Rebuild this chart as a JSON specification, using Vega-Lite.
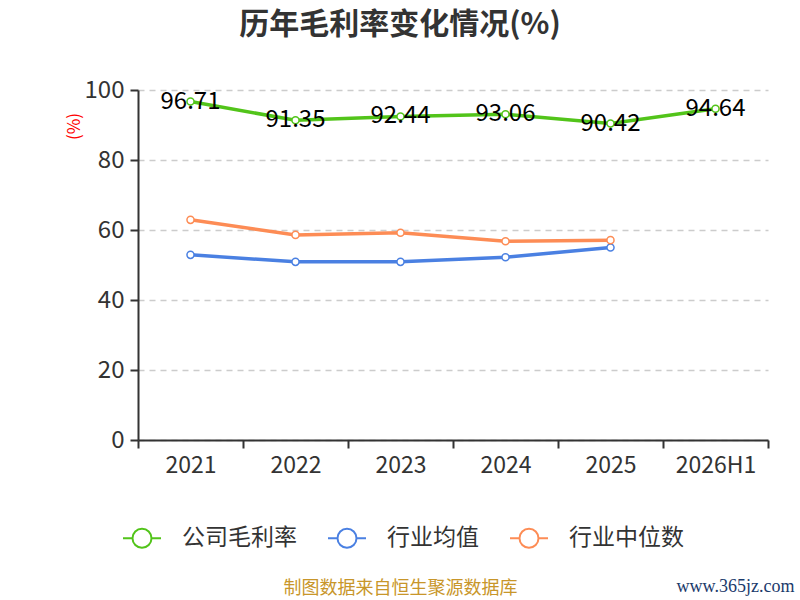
{
  "$schema": "https://vega.github.io/schema/vega-lite/v6.json",
  "width": 630,
  "height": 350,
  "autosize": {"type": "none"},
  "padding": {"left": 138, "top": 90, "right": 32, "bottom": 160},
  "background": "white",
  "config": {"font": "Noto Sans CJK SC", "view": {"stroke": null}},
  "title": {
    "text": "历年毛利率变化情况(%)",
    "fontSize": 30,
    "fontWeight": "bold",
    "color": "#333333",
    "anchor": "middle",
    "frame": "group",
    "offset": 38,
    "dx": -53
  },
  "data": {
    "values": [
      {"year": "2021", "series": "公司毛利率", "value": 96.71},
      {"year": "2022", "series": "公司毛利率", "value": 91.35},
      {"year": "2023", "series": "公司毛利率", "value": 92.44},
      {"year": "2024", "series": "公司毛利率", "value": 93.06},
      {"year": "2025", "series": "公司毛利率", "value": 90.42},
      {"year": "2026H1", "series": "公司毛利率", "value": 94.64},
      {"year": "2021", "series": "行业均值", "value": 52.9},
      {"year": "2022", "series": "行业均值", "value": 50.9},
      {"year": "2023", "series": "行业均值", "value": 50.9},
      {"year": "2024", "series": "行业均值", "value": 52.2},
      {"year": "2025", "series": "行业均值", "value": 55.0},
      {"year": "2021", "series": "行业中位数", "value": 62.9},
      {"year": "2022", "series": "行业中位数", "value": 58.6},
      {"year": "2023", "series": "行业中位数", "value": 59.2},
      {"year": "2024", "series": "行业中位数", "value": 56.8},
      {"year": "2025", "series": "行业中位数", "value": 57.1}
    ]
  },
  "encoding": {
    "y": {
      "field": "value",
      "type": "quantitative",
      "scale": {"domain": [0, 100], "nice": false},
      "axis": {
        "values": [0, 20, 40, 60, 80, 100],
        "title": "(%)",
        "titleColor": "red",
        "titleFontSize": 17,
        "titleFontWeight": "normal",
        "titleX": -55,
        "titleY": 36,
        "labelFontSize": 24,
        "labelColor": "#333333",
        "labelPadding": 6,
        "tickSize": 8,
        "tickWidth": 2,
        "tickColor": "#333333",
        "domainColor": "#333333",
        "domainWidth": 2,
        "grid": true,
        "gridDash": [6, 5],
        "gridColor": "#cccccc",
        "gridWidth": 1.5
      }
    }
  },
  "layer": [
    {
      "mark": {"type": "line", "strokeWidth": 3.5},
      "encoding": {
        "x": {
          "field": "year",
          "type": "ordinal",
          "bandPosition": 0.5,
          "scale": {"type": "band", "paddingInner": 0, "paddingOuter": 0, "domain": ["2021", "2022", "2023", "2024", "2025", "2026H1"]},
          "axis": {
            "orient": "bottom",
            "labelAngle": 0,
            "labelFontSize": 23,
            "labelColor": "#333333",
            "labelPadding": 6,
            "tickSize": 8,
            "tickWidth": 2,
            "tickColor": "#333333",
            "tickBand": "extent",
            "domainColor": "#333333",
            "domainWidth": 2,
            "grid": false,
            "title": "制图数据来自恒生聚源数据库",
            "titleColor": "#c8962a",
            "titleFontSize": 18,
            "titleFontWeight": "normal",
            "titleX": 262,
            "titleY": 148,
            "titleAlign": "center",
            "titleBaseline": "middle"
          }
        },
        "color": {
          "field": "series",
          "type": "nominal",
          "scale": {"domain": ["公司毛利率", "行业均值", "行业中位数"], "range": ["#52c41a", "#4a80e2", "#fd8c55"]},
          "legend": {
            "orient": "none",
            "legendX": -16,
            "legendY": 428,
            "direction": "horizontal",
            "title": null,
            "labelFontSize": 23,
            "labelColor": "#333333",
            "symbolType": "M-1,0L-0.5,0M0.5,0L1,0M-0.5,0A0.5,0.5,0,1,1,0.5,0A0.5,0.5,0,1,1,-0.5,0Z",
            "symbolSize": 1444,
            "symbolStrokeWidth": 2,
            "symbolFillColor": "white",
            "labelOffset": 20,
            "columnPadding": 27,
            "encode": {"symbols": {"update": {"fill": {"value": "white"}}}}
          }
        }
      }
    },
    {
      "mark": {"type": "point", "filled": true, "fill": "white", "size": 50, "strokeWidth": 1.5, "opacity": 1},
      "encoding": {
        "x": {"field": "year", "type": "ordinal", "bandPosition": 0.5, "axis": null},
        "stroke": {
          "field": "series",
          "type": "nominal",
          "scale": {"domain": ["公司毛利率", "行业均值", "行业中位数"], "range": ["#52c41a", "#4a80e2", "#fd8c55"]},
          "legend": null
        }
      }
    },
    {
      "transform": [{"filter": "datum.series === '公司毛利率'"}],
      "mark": {"type": "text", "fontSize": 24, "color": "black", "font": "Noto Sans CJK SC"},
      "encoding": {
        "x": {
          "field": "year",
          "type": "ordinal",
          "bandPosition": 0.5,
          "axis": {
            "orient": "top",
            "title": "www.365jz.com",
            "titleFont": "Liberation Serif",
            "titleColor": "#1b3a6b",
            "titleFontSize": 18,
            "titleFontWeight": "normal",
            "titleX": 597,
            "titleY": 496,
            "titleAlign": "center",
            "titleBaseline": "middle",
            "labels": false,
            "ticks": false,
            "domain": false,
            "grid": false
          }
        },
        "text": {"field": "value", "type": "quantitative", "format": ".2f"}
      }
    }
  ],
  "resolve": {"axis": {"x": "independent"}}
}
